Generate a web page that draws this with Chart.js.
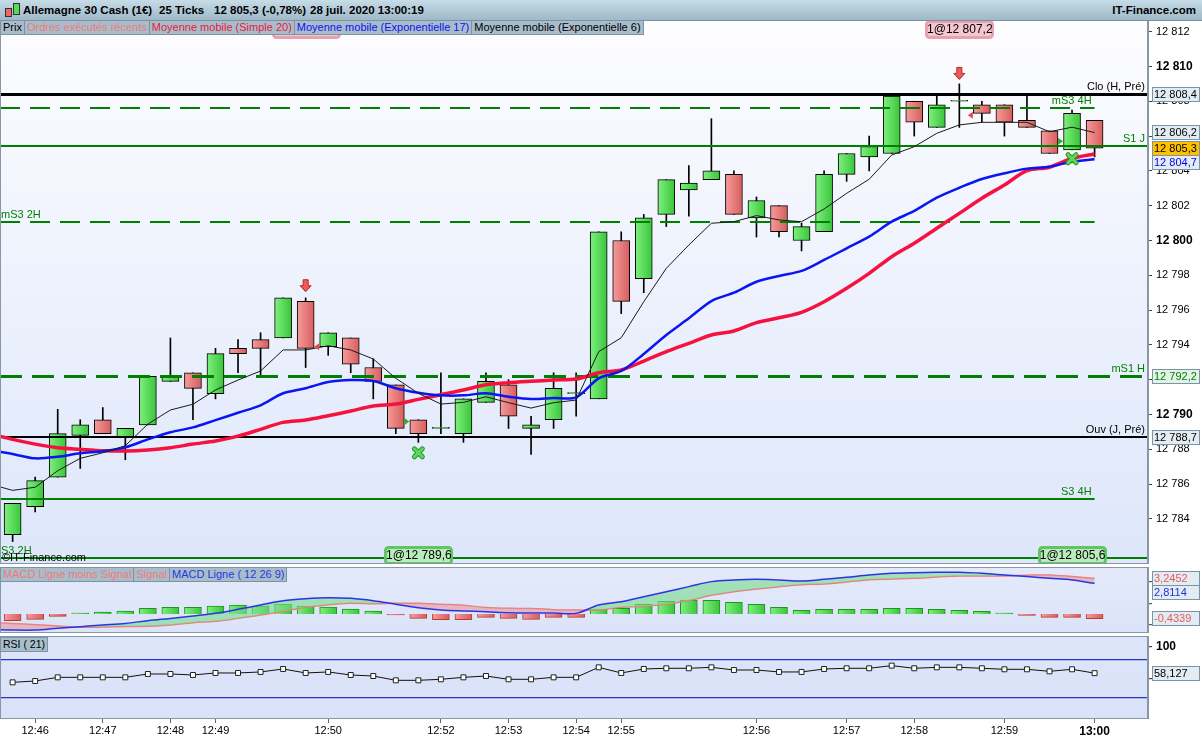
<!DOCTYPE html>
<html lang="fr">
<head>
<meta charset="UTF-8">
<title>Allemagne 30 Cash (1€) - 25 Ticks</title>
<script src="https://cdn.jsdelivr.net/npm/chart.js"></script>
<style>
  body { margin: 0; width: 1202px; height: 740px; background: #fff; position: relative; overflow: hidden;
         font-family: "Liberation Sans", Arial, sans-serif; }
  #header { position: absolute; left: 0; top: 0; width: 1202px; height: 20px;
            background: linear-gradient(#c6dce7, #9fb9c8); border-bottom: 1px solid #7890a0;
            font-weight: bold; font-size: 11.5px; z-index: 3; }
  #header span { position: absolute; top: 4px; white-space: nowrap; }
  .ico { position: absolute; top: 3px; width: 5px; border: 1px solid #333; }
  .tabs { position: absolute; left: 0; display: flex; z-index: 3; }
  .tabs div { background: #a8bdcb; border: 1px solid #7d93a3; border-left: none; font-size: 11px;
              height: 13px; line-height: 13px; padding: 0 2px; white-space: nowrap; box-sizing: content-box; }
  .tabs div:first-child { border-left: 1px solid #7d93a3; }
  canvas { position: absolute; left: 0; }
</style>
</head>
<body>
<div id="header">
  <div class="ico" style="left:5px;top:8px;height:7px;background:#e66;"></div>
  <div class="ico" style="left:13px;top:3px;height:10px;background:#5d5;"></div>
  <span style="left:23px">Allemagne 30 Cash (1€)</span>
  <span style="left:159px">25 Ticks</span>
  <span style="left:214px">12 805,3 (-0,78%)</span>
  <span style="left:310px">28 juil. 2020 13:00:19</span>
  <span style="right:6px">IT-Finance.com</span>
</div>
<div class="tabs" style="top:20px">
  <div style="color:#000">Prix</div>
  <div style="color:#f07a78">Ordres exécutés récents</div>
  <div style="color:#e8183c">Moyenne mobile (Simple 20)</div>
  <div style="color:#1010f0">Moyenne mobile (Exponentielle 17)</div>
  <div style="color:#000">Moyenne mobile (Exponentielle 6)</div>
</div>
<div class="tabs" style="top:567px">
  <div style="color:#f07a78">MACD Ligne moins Signal</div>
  <div style="color:#f07a78">Signal</div>
  <div style="color:#2a35e0">MACD Ligne ( 12 26 9)</div>
</div>
<div class="tabs" style="top:637px">
  <div style="color:#000;font-size:10.5px">RSI ( 21)</div>
</div>

<canvas id="priceChart" width="1202" height="544" style="top:20px"></canvas>
<canvas id="macdChart" width="1202" height="66" style="top:567px"></canvas>
<canvas id="rsiChart" width="1202" height="104" style="top:636px"></canvas>

<script>
// ---- candles, 25 ticks each ----
const candleOpen = [12783.1, 12784.7, 12786.4, 12788.8, 12789.7, 12788.7, 12789.4, 12791.9, 12792.4, 12791.2,
  12793.8, 12794.3, 12794.4, 12796.5, 12793.9, 12794.4, 12792.7, 12791.7, 12789.7, 12789.2,
  12788.9, 12790.7, 12791.7, 12789.2, 12789.7, 12791.2, 12790.9, 12800.0, 12797.8, 12801.5,
  12802.9, 12803.5, 12803.8, 12801.3, 12802.0, 12800.0, 12800.5, 12803.8, 12804.8, 12805.0,
  12808.0, 12806.5, 12808.0, 12807.8, 12807.8, 12806.9, 12806.3, 12805.2, 12806.9];
const candleHigh = [12784.9, 12786.4, 12790.3, 12789.7, 12790.4, 12789.2, 12792.2, 12794.4, 12792.4, 12793.8,
  12794.3, 12794.7, 12796.7, 12796.7, 12794.7, 12794.4, 12793.2, 12791.7, 12789.7, 12792.4,
  12790.9, 12792.4, 12792.0, 12789.9, 12792.4, 12792.4, 12800.5, 12800.5, 12801.5, 12803.5,
  12804.3, 12807.0, 12804.0, 12802.5, 12802.0, 12801.0, 12804.0, 12805.0, 12806.0, 12808.3,
  12808.0, 12808.3, 12809.0, 12808.0, 12807.8, 12808.3, 12806.3, 12807.5, 12806.9];
const candleLow = [12782.7, 12784.4, 12786.4, 12786.9, 12788.9, 12787.4, 12789.4, 12791.9, 12789.7, 12790.9,
  12792.4, 12792.2, 12794.4, 12792.7, 12793.4, 12792.4, 12790.9, 12788.9, 12788.4, 12788.9,
  12788.4, 12790.7, 12789.2, 12787.7, 12789.2, 12789.9, 12790.9, 12795.8, 12797.0, 12800.8,
  12801.4, 12803.5, 12801.5, 12800.2, 12800.2, 12799.4, 12800.5, 12803.4, 12804.0, 12805.0,
  12806.0, 12806.5, 12806.5, 12806.8, 12806.0, 12806.5, 12805.0, 12805.2, 12804.8];
const candleClose = [12784.9, 12786.2, 12788.9, 12789.4, 12788.9, 12789.2, 12792.2, 12792.2, 12791.5, 12793.5,
  12793.5, 12793.8, 12796.7, 12793.8, 12794.7, 12792.9, 12791.9, 12789.2, 12788.9, 12789.2,
  12790.9, 12791.9, 12789.9, 12789.4, 12791.5, 12791.2, 12800.5, 12796.5, 12801.3, 12803.5,
  12803.3, 12804.0, 12801.5, 12802.3, 12800.5, 12800.8, 12803.8, 12805.0, 12805.4, 12808.3,
  12806.8, 12807.8, 12808.0, 12807.3, 12806.8, 12806.5, 12805.0, 12807.3, 12805.3];

// moving averages: first value belongs to the bar just before the visible window
const sma20 = [12788.90, 12788.57, 12788.30, 12788.09, 12788.00, 12787.92, 12787.90, 12787.96, 12788.09, 12788.30, 12788.48,
  12788.76, 12789.15, 12789.55, 12789.68, 12789.93, 12790.20, 12790.49, 12790.60, 12790.87, 12791.14,
  12791.41, 12791.71, 12791.83, 12791.91, 12791.98, 12792.04, 12792.40, 12792.56, 12793.07, 12793.61,
  12794.09, 12794.57, 12794.80, 12795.28, 12795.56, 12795.87, 12796.48, 12797.25, 12798.11, 12799.07,
  12799.84, 12800.70, 12801.56, 12802.43, 12803.19, 12804.01, 12804.21, 12804.72, 12804.97];
const ema17 = [12787.95, 12787.73, 12787.48, 12787.57, 12787.77, 12787.89, 12788.11, 12788.57, 12788.98, 12789.26, 12789.68,
  12790.10, 12790.53, 12791.22, 12791.51, 12791.87, 12791.98, 12791.93, 12791.51, 12791.25, 12791.10,
  12791.10, 12791.22, 12791.02, 12790.89, 12790.95, 12790.99, 12792.08, 12792.50, 12793.48, 12794.57,
  12795.53, 12796.52, 12797.00, 12797.63, 12797.96, 12798.25, 12798.88, 12799.55, 12800.22, 12801.08,
  12801.70, 12802.46, 12803.03, 12803.53, 12803.86, 12804.13, 12804.24, 12804.53, 12804.67];
const ema6 = [12786.00, 12785.64, 12785.82, 12786.77, 12787.48, 12787.80, 12788.21, 12789.45, 12790.26, 12790.59, 12791.41,
  12791.98, 12792.50, 12793.71, 12793.71, 12793.95, 12793.71, 12793.19, 12792.08, 12791.22, 12790.60,
  12790.70, 12791.02, 12790.68, 12790.37, 12790.68, 12790.83, 12793.61, 12794.41, 12796.48, 12798.40,
  12799.74, 12800.99, 12801.08, 12801.43, 12801.18, 12801.08, 12801.81, 12802.71, 12803.52, 12804.91,
  12805.39, 12806.16, 12806.64, 12806.79, 12806.79, 12806.79, 12806.25, 12806.51, 12806.20];

// pivot / support levels
const levelNames = ['Clo (H, Pré)', 'mS3 4H', 'S1 J', 'mS3 2H', 'mS1 H', 'Ouv (J, Pré)', 'S3 4H', 'S3 2H'];
const levelValues = [12808.4, 12807.6, 12805.45, 12801.05, 12792.2, 12788.7, 12785.15, 12781.75];

// last-value tags on the price axis
const priceTagValues = [12808.4, 12806.2, 12805.3, 12804.7, 12792.2, 12788.7];
const priceTicks = [12784, 12786, 12788, 12790, 12792, 12794, 12796, 12798, 12800, 12802, 12804, 12806, 12808, 12810, 12812];

// executed orders and signal markers
const orderBar = [13, 42, 18, 47];
const orderPrice = [12796.4, 12807.2, 12789.6, 12805.6];
const orderSide = ['sell', 'sell', 'buy', 'buy'];
const markerBar = [13, 42, 14, 43, 18, 47, 18, 47];
const markerPrice = [12797.4, 12809.6, 12793.9, 12807.2, 12789.6, 12805.7, 12787.8, 12804.7];
const markerKind = ['down', 'down', 'left', 'left', 'right', 'right', 'cross', 'cross'];

// MACD (12 26 9)
const macdLine = [-1.40, -1.47, -1.47, -1.31, -1.16, -1.01, -0.86, -0.61, -0.40, -0.18, 0.06,
  0.43, 0.83, 1.22, 1.41, 1.50, 1.44, 1.22, 0.89, 0.58, 0.37,
  0.28, 0.21, 0.12, 0.09, 0.09, 0.06, 0.83, 1.13, 1.59, 2.05,
  2.51, 2.97, 3.12, 3.18, 3.12, 3.03, 3.18, 3.36, 3.58, 3.73,
  3.79, 3.82, 3.82, 3.73, 3.58, 3.43, 3.27, 3.12, 2.81];
const macdSignal = [-0.82, -0.86, -0.98, -1.10, -1.22, -1.19, -1.14, -1.13, -1.01, -0.79, -0.67,
  -0.40, -0.10, 0.25, 0.62, 0.86, 0.98, 0.94, 0.98, 0.98, 0.89,
  0.80, 0.60, 0.52, 0.50, 0.40, 0.37, 0.37, 0.61, 0.70, 0.89,
  1.23, 1.72, 2.05, 2.29, 2.51, 2.69, 2.75, 2.93, 3.15, 3.21,
  3.27, 3.39, 3.48, 3.49, 3.49, 3.55, 3.58, 3.43, 3.25];
const macdHist = [-0.61, -0.49, -0.21, 0.09, 0.18, 0.28, 0.52, 0.61, 0.61, 0.73,
  0.83, 0.73, 0.92, 0.73, 0.64, 0.46, 0.28, -0.09, -0.40, -0.52,
  -0.52, -0.31, -0.40, -0.49, -0.31, -0.31, 0.46, 0.52, 0.89, 1.16,
  1.28, 1.25, 1.07, 0.89, 0.61, 0.34, 0.43, 0.43, 0.43, 0.52,
  0.52, 0.43, 0.34, 0.24, 0.09, -0.12, -0.31, -0.31, -0.43];
const macdTagValues = [3.2452, 2.8114, -0.4339];
const macdTicks = [-1, 0, 1, 2, 3, 4];

// RSI (21)
const rsi21 = [43.6, 45.7, 51.5, 51.5, 51.5, 51.5, 56.8, 56.8, 55.2, 58.4,
  58.4, 60.0, 64.7, 58.4, 60.0, 55.2, 53.6, 46.8, 46.8, 48.4,
  51.5, 53.6, 48.4, 48.4, 51.5, 51.5, 67.3, 58.4, 64.7, 65.8,
  65.8, 67.3, 63.1, 63.1, 60.0, 60.0, 64.7, 65.8, 65.8, 70.0,
  65.8, 67.3, 67.3, 65.8, 64.2, 64.2, 61.0, 64.2, 58.127];
const rsiTicks = [20, 50, 80, 100];
const rsiLevels = [20, 80];

// time axis
const timeTickBar = [1, 4, 7, 9, 14, 19, 22, 25, 27, 33, 37, 40, 44, 48];
const timeTickText = ['12:46', '12:47', '12:48', '12:49', '12:50', '12:52', '12:53', '12:54', '12:55', '12:56', '12:57', '12:58', '12:59', '13:00'];

// ---- look ----
const FONT = '"Liberation Sans", Arial, sans-serif';
const X_MIN = -0.56, X_MAX = 50.37;     // first candle at 12.6px, 22.54px apart, plot 1148px wide
const AXIS_W = 54;
const GREEN = '#008000';
const levelStyle = {
  'Clo (H, Pré)': { color: '#000', width: 3, dash: [], full: true, label: 'right' },
  'mS3 4H': { color: GREEN, width: 2, dash: [20, 10], full: false, label: 'right' },
  'S1 J': { color: GREEN, width: 2, dash: [], full: true, label: 'right' },
  'mS3 2H': { color: GREEN, width: 2, dash: [20, 10], full: false, label: 'left' },
  'mS1 H': { color: GREEN, width: 3, dash: [22, 10], full: true, label: 'right' },
  'Ouv (J, Pré)': { color: '#000', width: 2, dash: [], full: true, label: 'right' },
  'S3 4H': { color: GREEN, width: 2, dash: [], full: false, label: 'right' },
  'S3 2H': { color: GREEN, width: 2, dash: [], full: true, label: 'left' }
};
const priceTagStyle = [
  { color: '#000', bg: '#e4ecf3' }, { color: '#000', bg: '#e4ecf3' }, { color: '#000', bg: '#ffc000' },
  { color: '#0000f0', bg: '#e4ecf3' }, { color: '#008000', bg: '#e3f2e6' }, { color: '#000', bg: '#e4ecf3' }
];
const macdTagStyle = [{ color: '#e85a5a', bg: '#e4ecf3' }, { color: '#2030e0', bg: '#e4ecf3' }, { color: '#e85a5a', bg: '#e4ecf3' }];

Chart.defaults.font.family = FONT;
Chart.defaults.font.size = 11;
Chart.defaults.color = '#000';
Chart.defaults.animation = false;
Chart.defaults.plugins.legend.display = false;
Chart.defaults.plugins.tooltip.enabled = false;

function fmtNum(v, dec) {
  const s = Math.abs(v).toFixed(dec).split('.');
  const int = s[0].replace(/\B(?=(\d{3})+(?!\d))/g, ' ');
  return (v < 0 ? '-' : '') + int + (s[1] ? ',' + s[1] : '');
}
function decimals(v) {
  const s = String(v).split('.');
  return s[1] ? s[1].length : 0;
}

const bars = candleOpen.map((_, i) => i);
const withPrev = arr => arr.map((v, i) => ({ x: i - 1, y: v }));

// horizontal shading across each bar
function sideGradient(ctx, light, dark) {
  const chart = ctx.chart;
  if (!chart.chartArea || ctx.type !== 'data' || !ctx.parsed) return light;
  const x = chart.scales.x.getPixelForValue(ctx.parsed.x);
  const g = chart.ctx.createLinearGradient(x - 8, 0, x + 8, 0);
  g.addColorStop(0, light);
  g.addColorStop(1, dark);
  return g;
}
const upFill = ['#7cef7c', '#3cc63c'];
const downFill = ['#f59a9a', '#d75f5f'];

function xAxis(extra) {
  return Object.assign({ type: 'linear', min: X_MIN, max: X_MAX, offset: false, display: false, grid: { display: false } }, extra || {});
}

function drawTags(chart, items) {
  const { ctx, chartArea, scales: { y } } = chart;
  const x0 = chartArea.right + 4, w = chart.width - x0 - 2, h = 15;
  const placed = items.map(it => Object.assign({}, it, { py: y.getPixelForValue(it.value) })).sort((a, b) => a.py - b.py);
  for (let k = 1; k < placed.length; k++) {
    if (placed[k].py < placed[k - 1].py + h - 1) placed[k].py = placed[k - 1].py + h - 1;
  }
  ctx.save();
  ctx.font = '11px ' + FONT;
  ctx.textBaseline = 'middle';
  placed.forEach(p => {
    const top = Math.round(p.py - h / 2);
    ctx.fillStyle = p.bg;
    ctx.fillRect(x0, top, w, h);
    ctx.strokeStyle = '#7b93a6';
    ctx.lineWidth = 1;
    ctx.strokeRect(x0 + 0.5, top + 0.5, w - 1, h - 1);
    ctx.fillStyle = p.color;
    ctx.fillText(p.text, x0 + 2, top + h / 2 + 0.5);
  });
  ctx.restore();
}

// background + frame of each panel
const panelPlugin = {
  id: 'panel',
  beforeDraw(chart, args, opts) {
    const { ctx, chartArea: a } = chart;
    const g = ctx.createLinearGradient(0, a.top, 0, a.bottom);
    g.addColorStop(0, opts.top);
    g.addColorStop(1, opts.bottom);
    ctx.save();
    ctx.fillStyle = g;
    ctx.fillRect(a.left, a.top, a.right - a.left, a.bottom - a.top);
    ctx.restore();
  },
  afterDraw(chart) {
    const { ctx, chartArea: a } = chart;
    ctx.save();
    ctx.strokeStyle = '#8797a8';
    ctx.lineWidth = 1;
    ctx.strokeRect(a.left + 0.5, a.top + 0.5, a.right - a.left - 1, a.bottom - a.top - 1);
    ctx.restore();
  }
};

// levels drawn just after the candle bodies, under the moving averages
const levelPlugin = {
  id: 'levels',
  afterDatasetDraw(chart, args) {
    if (args.meta.label !== 'Prix') return;
    const { ctx, chartArea: a, scales: { x, y } } = chart;
    const lastX = x.getPixelForValue(bars.length - 1);
    ctx.save();
    ctx.font = '11px ' + FONT;
    levelNames.forEach((name, k) => {
      const st = levelStyle[name];
      const py = Math.round(y.getPixelForValue(levelValues[k])) + (st.width % 2 ? 0.5 : 0);
      const x1 = st.full ? a.right : lastX;
      ctx.strokeStyle = st.color;
      ctx.lineWidth = st.width;
      ctx.setLineDash(st.dash);
      ctx.beginPath();
      ctx.moveTo(a.left, py);
      ctx.lineTo(x1, py);
      ctx.stroke();
      ctx.fillStyle = st.color;
      ctx.textBaseline = 'bottom';
      if (st.label === 'right') {
        ctx.textAlign = 'right';
        ctx.fillText(name, x1 - 3, py - st.width / 2 - 1);
      } else {
        ctx.textAlign = 'left';
        ctx.fillText(name, a.left + 1, py - st.width / 2 - 1);
      }
    });
    ctx.setLineDash([]);
    ctx.textAlign = 'left';
    ctx.textBaseline = 'middle';
    ctx.fillStyle = '#000';
    ctx.fillText('©IT-Finance.com', a.left + 2, a.bottom - 6);
    ctx.restore();
  }
};

const markPlugin = {
  id: 'marks',
  afterDatasetsDraw(chart) {
    const { ctx, chartArea: a, scales: { x, y } } = chart;
    ctx.save();
    markerBar.forEach((b, k) => {
      const cx = x.getPixelForValue(b), cy = y.getPixelForValue(markerPrice[k]);
      const kind = markerKind[k];
      ctx.lineWidth = 1;
      ctx.setLineDash([]);
      if (kind === 'down') {
        ctx.beginPath();
        ctx.moveTo(cx - 2.5, cy - 6); ctx.lineTo(cx + 2.5, cy - 6); ctx.lineTo(cx + 2.5, cy);
        ctx.lineTo(cx + 5.5, cy); ctx.lineTo(cx, cy + 6); ctx.lineTo(cx - 5.5, cy); ctx.lineTo(cx - 2.5, cy);
        ctx.closePath();
        ctx.fillStyle = '#f05a5a'; ctx.strokeStyle = '#b42828';
        ctx.fill(); ctx.stroke();
      } else if (kind === 'left') {
        const ex = cx - 9;
        ctx.beginPath();
        ctx.moveTo(ex, cy - 3.5); ctx.lineTo(ex - 5, cy); ctx.lineTo(ex, cy + 3.5); ctx.closePath();
        ctx.fillStyle = '#e84848'; ctx.fill();
      } else if (kind === 'right') {
        const ex = cx - 9;
        ctx.beginPath();
        ctx.moveTo(ex - 5, cy - 3.5); ctx.lineTo(ex, cy); ctx.lineTo(ex - 5, cy + 3.5); ctx.closePath();
        ctx.fillStyle = '#2eaa2e'; ctx.fill();
      } else {
        ctx.lineCap = 'round';
        [['#2a962a', 5], ['#5cd85c', 3]].forEach(([c, w]) => {
          ctx.strokeStyle = c; ctx.lineWidth = w;
          ctx.beginPath();
          ctx.moveTo(cx - 4, cy - 4); ctx.lineTo(cx + 4, cy + 4);
          ctx.moveTo(cx + 4, cy - 4); ctx.lineTo(cx - 4, cy + 4);
          ctx.stroke();
        });
        ctx.lineCap = 'butt';
      }
    });
    // executed orders
    ctx.font = '12px ' + FONT;
    ctx.textBaseline = 'middle';
    ctx.textAlign = 'center';
    orderBar.forEach((b, k) => {
      const cx = x.getPixelForValue(b), w = 66, h = 16;
      const sell = orderSide[k] === 'sell';
      const top = sell ? a.top + 1 : a.bottom - h - 1;
      ctx.beginPath();
      ctx.roundRect(Math.round(cx - w / 2) + 0.5, top + 0.5, w, h, 3);
      ctx.fillStyle = sell ? '#f5c8d0' : '#b9ecbb';
      ctx.strokeStyle = sell ? '#e8a2ad' : '#62c462';
      ctx.fill(); ctx.stroke();
      ctx.fillStyle = '#000';
      ctx.fillText('1@' + fmtNum(orderPrice[k], 1), cx + 0.5, top + h / 2 + 1);
    });
    ctx.restore();
  },
  afterDraw(chart) {
    drawTags(chart, priceTagValues.map((v, k) => ({ value: v, text: fmtNum(v, 1), color: priceTagStyle[k].color, bg: priceTagStyle[k].bg })));
  }
};

new Chart(document.getElementById('priceChart'), {
  type: 'bar',
  data: {
    datasets: [
      { type: 'line', label: 'Moyenne mobile (Exponentielle 6)', data: withPrev(ema6), borderColor: '#1a1a1a', borderWidth: 1, pointRadius: 0, tension: 0, order: 0 },
      { type: 'line', label: 'Moyenne mobile (Exponentielle 17)', data: withPrev(ema17), borderColor: '#0a16f2', borderWidth: 2.5, pointRadius: 0, tension: 0.3, order: 1 },
      { type: 'line', label: 'Moyenne mobile (Simple 20)', data: withPrev(sma20), borderColor: '#f5123f', borderWidth: 3.5, pointRadius: 0, tension: 0.3, order: 2 },
      {
        label: 'Prix',
        data: bars.map(i => ({ x: i, y: [candleOpen[i], candleClose[i]] })),
        barThickness: 17, borderWidth: 1, borderColor: '#000', borderSkipped: false, minBarLength: 1, grouped: false,
        backgroundColor: ctx => {
          const i = ctx.dataIndex;
          const up = candleClose[i] >= candleOpen[i];
          return sideGradient(ctx, ...(up ? upFill : downFill));
        },
        order: 3
      },
      {
        label: 'Mèches',
        data: bars.map(i => ({ x: i, y: [candleLow[i], candleHigh[i]] })),
        barThickness: 1, backgroundColor: '#000', borderWidth: 0, grouped: false, order: 4
      }
    ]
  },
  options: {
    responsive: false,
    layout: { padding: 0, autoPadding: false },
    scales: {
      x: xAxis(),
      y: {
        type: 'linear', position: 'right', min: 12781.41, max: 12812.67, beginAtZero: false,
        afterFit: s => { s.width = AXIS_W; s.paddingTop = 0; s.paddingBottom = 0; },
        afterBuildTicks: s => { s.ticks = priceTicks.map(v => ({ value: v })); },
        ticks: {
          autoSkip: false, padding: 4, color: '#000',
          callback: v => fmtNum(v, 0),
          font: c => (c.tick && c.tick.value % 10 === 0) ? { size: 12, weight: 'bold' } : { size: 11 }
        },
        grid: { drawOnChartArea: false, tickLength: 4, tickColor: '#444' },
        border: { color: '#8797a8' }
      }
    },
    plugins: { panel: { top: '#fdfdff', bottom: '#dde6fa' } }
  },
  plugins: [panelPlugin, levelPlugin, markPlugin]
});

// ---- MACD panel ----
new Chart(document.getElementById('macdChart'), {
  type: 'bar',
  data: {
    datasets: [
      {
        type: 'line', label: 'MACD Ligne ( 12 26 9)', data: withPrev(macdLine), borderColor: '#2a35e0', borderWidth: 1.5,
        pointRadius: 0, tension: 0.35, order: 0,
        fill: { target: 1, above: 'rgba(120,218,140,0.6)', below: 'rgba(236,150,160,0.6)' }
      },
      { type: 'line', label: 'Signal', data: withPrev(macdSignal), borderColor: '#f07878', borderWidth: 1.5, pointRadius: 0, tension: 0.35, order: 1 },
      {
        label: 'MACD Ligne moins Signal',
        data: bars.map(i => ({ x: i, y: macdHist[i] })),
        barThickness: 17, borderWidth: 1, grouped: false, order: 2,
        borderColor: ctx => macdHist[ctx.dataIndex] >= 0 ? '#1d961d' : '#b83a3a',
        backgroundColor: ctx => sideGradient(ctx, ...(macdHist[ctx.dataIndex] >= 0 ? upFill : downFill))
      }
    ]
  },
  options: {
    responsive: false,
    layout: { padding: 0, autoPadding: false },
    scales: {
      x: xAxis(),
      y: {
        type: 'linear', position: 'right', min: -1.74, max: 4.31,
        afterFit: s => { s.width = AXIS_W; s.paddingTop = 0; s.paddingBottom = 0; },
        afterBuildTicks: s => { s.ticks = macdTicks.map(v => ({ value: v })); },
        ticks: { callback: () => '', padding: 2 },
        grid: {
          color: c => (c.tick && c.tick.value === 0) ? '#1f2ad6' : 'rgba(0,0,0,0)',
          tickColor: '#555', tickLength: 4, lineWidth: 1.2
        },
        border: { color: '#8797a8' }
      }
    },
    plugins: { panel: { top: '#e4eafb', bottom: '#dbe3f8' } }
  },
  plugins: [panelPlugin, {
    id: 'macdTags',
    afterDraw(chart) {
      drawTags(chart, macdTagValues.map((v, k) => ({ value: v, text: fmtNum(v, decimals(v)), color: macdTagStyle[k].color, bg: macdTagStyle[k].bg })));
    }
  }]
});

// ---- RSI panel ----
new Chart(document.getElementById('rsiChart'), {
  type: 'line',
  data: {
    datasets: [{
      label: 'RSI ( 21)',
      data: bars.map(i => ({ x: i, y: rsi21[i] })),
      borderColor: '#111', borderWidth: 1, tension: 0,
      pointStyle: 'rect', pointRadius: 3.5, pointBackgroundColor: '#fff', pointBorderColor: '#222', pointBorderWidth: 1
    }]
  },
  options: {
    responsive: false,
    layout: { padding: 0, autoPadding: false },
    scales: {
      x: xAxis({
        display: true,
        afterFit: s => { s.height = 21; s.paddingLeft = 0; s.paddingRight = 0; },
        afterBuildTicks: s => { s.ticks = timeTickBar.map(v => ({ value: v })); },
        ticks: {
          autoSkip: false, maxRotation: 0, padding: 1, color: '#000',
          callback: (v, k) => timeTickText[k],
          font: c => (timeTickText[c.index] === '13:00') ? { size: 12, weight: 'bold' } : { size: 11 }
        },
        grid: { display: true, drawOnChartArea: false, tickLength: 4, tickColor: '#666' },
        border: { display: false }
      }),
      y: {
        type: 'linear', position: 'right', min: -14.3, max: 116.8,
        afterFit: s => { s.width = AXIS_W; s.paddingTop = 0; s.paddingBottom = 0; },
        afterBuildTicks: s => { s.ticks = rsiTicks.map(v => ({ value: v })); },
        ticks: {
          autoSkip: false, padding: 4,
          callback: v => rsiLevels.includes(v) ? '' : String(v),
          font: c => (c.tick && c.tick.value === 100) ? { size: 12, weight: 'bold' } : { size: 11 }
        },
        grid: {
          color: c => (c.tick && rsiLevels.includes(c.tick.value)) ? '#2a35c6' : 'rgba(0,0,0,0)',
          tickColor: c => (c.tick && rsiLevels.includes(c.tick.value)) ? 'rgba(0,0,0,0)' : '#444',
          tickLength: 4, lineWidth: 1.2
        },
        border: { color: '#8797a8' }
      }
    },
    plugins: { panel: { top: '#dce5f9', bottom: '#d9e2f8' } }
  },
  plugins: [panelPlugin, {
    id: 'rsiTag',
    afterDraw(chart) {
      const v = rsi21[rsi21.length - 1];
      drawTags(chart, [{ value: v, text: fmtNum(v, 3), color: '#000', bg: '#e4ecf3' }]);
    }
  }]
});
</script>
</body>
</html>
